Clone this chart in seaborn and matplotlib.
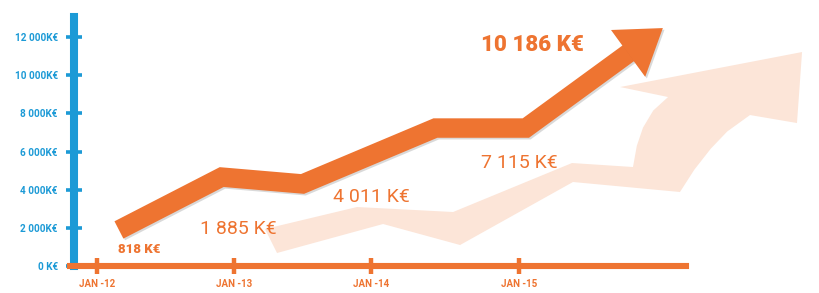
import numpy as np
import pandas as pd
import matplotlib
matplotlib.use("Agg")
import matplotlib.pyplot as plt
import matplotlib.patheffects as pe
import seaborn as sns

# ---------------- data ----------------
year_labels = ["JAN -12", "JAN -13", "JAN -14", "JAN -15"]
year_pos = [0, 1, 2, 3.08]
y_ticks = [0, 2000, 4000, 6000, 8000, 10000, 12000]
y_tick_labels = ["0 K€", "2 000K€", "4 000K€", "6 000K€", "8 000K€", "10 000K€", "12 000K€"]

revenue = [818, 1885, 4011, 7115, 10186]
label_x = [0.31, 1.03, 2.0, 3.08, 3.18]
label_y = [891, 1939, 3616, 5397, 11580]
label_bold = [True, False, False, False, True]

# main growth arrow (centre line, last point = arrow tip)
arrow_x = [0.16, 0.91, 1.50, 2.47, 3.13, 4.13]
arrow_y = [1890, 4660, 4300, 7230, 7230, 12470]

# faded perspective "shadow" arrow outline
shadow_x = [1.226, 1.898, 2.599, 3.467, 3.912, 3.940, 3.985, 4.060, 4.168, 3.818, 5.146,
            5.109, 4.766, 4.600, 4.480, 4.360, 4.255, 3.474, 2.650, 2.088, 1.314]
shadow_y = [1939, 3092, 2830, 5397, 5188, 6300, 7250, 8150, 8856, 9380, 11214,
            7493, 7912, 7050, 6150, 5050, 3878, 4402, 1100, 2201, 681]

ORANGE = "#EE7431"
BLUE = "#1C9AD6"
PEACH = "#FCE5D8"

# ---------------- figure ----------------
sns.set_theme(style="white")
plt.rcParams["font.family"] = ["Roboto", "DejaVu Sans"]

DPI = 100
fig = plt.figure(figsize=(8.2, 2.93), dpi=DPI)
ax = fig.add_axes([0, 0, 1, 1])
ax.set_xlim(-0.708, 5.277)
ax.set_ylim(-1415, 13941)
ax.set_facecolor("white")

# shadow arrow
ax.fill(shadow_x, shadow_y, color=PEACH, lw=0, zorder=1)

# main arrow: compute head from last segment in display space
T = ax.transData
tip = T.transform((arrow_x[-1], arrow_y[-1]))
prev = T.transform((arrow_x[-2], arrow_y[-2]))
d = (tip - prev) / np.linalg.norm(tip - prev)
n = np.array([-d[1], d[0]])
s = DPI / 100.0
head_len, head_w = 43 * s, 58 * s
base = tip - d * head_len
tri = np.array([tip, base + n * head_w / 2, base - n * head_w / 2])
tri_d = T.inverted().transform(tri)
shaft_end = T.inverted().transform(base + d * 3)

shaft = pd.DataFrame({"x": arrow_x[:-1] + [shaft_end[0]],
                      "y": arrow_y[:-1] + [shaft_end[1]]})
shadow_fx = [pe.SimpleLineShadow(offset=(1.2, -1.2), shadow_color="#555555", alpha=0.22),
             pe.Normal()]
sns.lineplot(data=shaft, x="x", y="y", sort=False, estimator=None, color=ORANGE,
             linewidth=14, solid_joinstyle="miter", solid_capstyle="butt",
             path_effects=shadow_fx, ax=ax, zorder=3)
ax.fill(tri_d[:, 0], tri_d[:, 1], color=ORANGE, lw=0, zorder=3,
        path_effects=[pe.SimplePatchShadow(offset=(1.2, -1.2), shadow_rgbFace="#555555", alpha=0.22),
                      pe.Normal()])

# value labels
for x, y, v, b in zip(label_x, label_y, revenue, label_bold):
    txt = f"{v:,}".replace(",", " ") + " K€"
    if b:
        size = 9.5 if v < 1000 else 16
        ax.text(x, y, txt, ha="center", va="center", color=ORANGE, fontsize=size,
                fontweight="black", zorder=5)
    else:
        ax.text(x, y, txt, ha="center", va="center", color=ORANGE, fontsize=14,
                fontweight="normal", zorder=5)

# axes styling: blue y spine, orange x spine
for side in ["top", "right"]:
    ax.spines[side].set_visible(False)
ax.spines["left"].set_position(("data", -0.168))
ax.spines["left"].set_bounds(0, 13050)
ax.spines["left"].set_color(BLUE)
ax.spines["left"].set_linewidth(5.8)
ax.spines["left"].set_zorder(2)
ax.spines["bottom"].set_position(("data", 0))
ax.spines["bottom"].set_bounds(-0.197, 4.30)
ax.spines["bottom"].set_color(ORANGE)
ax.spines["bottom"].set_linewidth(4.4)
ax.spines["bottom"].set_zorder(4)

ax.set_yticks(y_ticks)
ax.set_yticklabels(y_tick_labels)
ax.set_xticks(year_pos)
ax.set_xticklabels(year_labels)
ax.tick_params(axis="y", left=True, direction="inout", length=11.5, width=2.6, color=BLUE,
               labelcolor=BLUE, labelsize=7.2, pad=6)
ax.tick_params(axis="x", bottom=True, direction="inout", length=11, width=3.2, color=ORANGE,
               labelcolor=ORANGE, labelsize=7, pad=4)
for lab in ax.get_yticklabels() + ax.get_xticklabels():
    lab.set_fontweight("bold")
ax.set_xlabel("")
ax.set_ylabel("")
ax.grid(False)

fig.savefig("out.png", dpi=DPI)
